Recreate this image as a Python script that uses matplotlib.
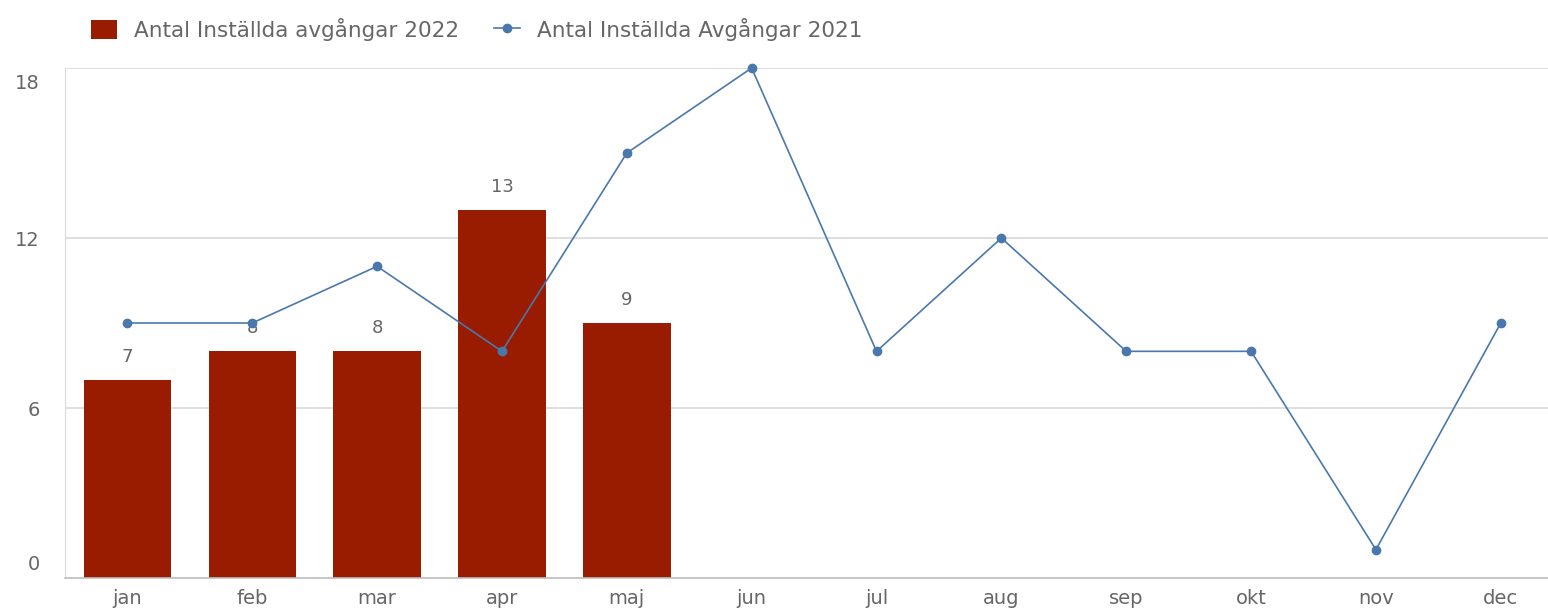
import matplotlib.pyplot as plt
import numpy as np
from matplotlib.transforms import ScaledTranslation

months = ["jan", "feb", "mar", "apr", "maj", "jun", "jul", "aug", "sep", "okt", "nov", "dec"]
cancelled_2022 = [7, 8, 8, 13, 9]
cancelled_2021 = [9, 9, 11, 8, 15, 18, 8, 12, 8, 8, 1, 9]
y_ticks = [0, 6, 12, 18]

bar_color = "#991b00"
line_color = "#4a78ad"
text_color = "#666666"

plt.rcParams["font.family"] = ["DejaVu Sans"]

fig = plt.figure(figsize=(15.48, 6.10), dpi=100)
ax = fig.add_axes([65 / 1548, 1 - 578 / 610, 1 - 65 / 1548, (578 - 68) / 610])

x = np.arange(len(months))
bars = ax.bar(x[:len(cancelled_2022)], cancelled_2022, width=0.7, color=bar_color,
              label="Antal Inställda avgångar 2022", zorder=2)
line, = ax.plot(x, cancelled_2021, color=line_color, linewidth=1.2, marker="o", markersize=6,
                label="Antal Inställda Avgångar 2021", zorder=3, clip_on=False)

for bar, value in zip(bars, cancelled_2022):
    ax.text(bar.get_x() + bar.get_width() / 2, value + 0.5, str(value),
            ha="center", va="bottom", fontsize=13, color=text_color, zorder=1)

ax.set_xlim(-0.5, (1548 - 65.6) / 124.8 - 0.5)
ax.set_ylim(0, 18)
ax.set_xticks(x)
ax.set_xticklabels(months)
ax.set_yticks(y_ticks)
ax.tick_params(axis="both", length=0, labelsize=14, colors=text_color)
ax.tick_params(axis="y", pad=18)
ax.tick_params(axis="x", pad=8)

# first and last y labels are kept inside the plot area
ylabels = ax.get_yticklabels()
ylabels[0].set_verticalalignment("bottom")
ylabels[0].set_transform(ylabels[0].get_transform()
                         + ScaledTranslation(0, 0.04, fig.dpi_scale_trans))
ylabels[-1].set_verticalalignment("top")
ylabels[-1].set_transform(ylabels[-1].get_transform()
                          + ScaledTranslation(0, -0.06, fig.dpi_scale_trans))

ax.grid(axis="y", color="#d9d9d9", linewidth=1.2, zorder=0)
ax.set_axisbelow(True)
for side in ["top", "right"]:
    ax.spines[side].set_visible(False)
ax.spines["left"].set_color("#d9d9d9")
ax.spines["bottom"].set_color("#bfbfbf")
ax.spines["bottom"].set_linewidth(1.2)

fig.legend([bars, line], [bars.get_label(), line.get_label()],
           loc="upper left", bbox_to_anchor=(72 / 1548, 1.003), ncol=2, frameon=False,
           fontsize=15.5, labelcolor=text_color, handlelength=1.2, handleheight=1.0,
           columnspacing=1.6, handletextpad=0.8)

fig.savefig("out.png", dpi=100)
